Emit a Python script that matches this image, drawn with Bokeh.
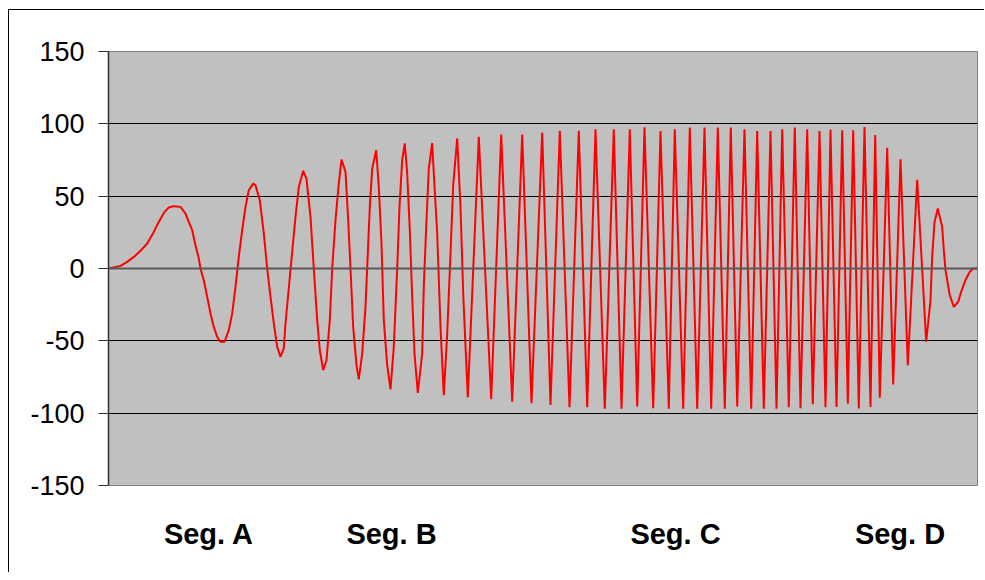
from bokeh.plotting import figure
from bokeh.models import Range1d, FixedTicker, Span
from bokeh.embed import file_html
from bokeh.resources import INLINE

# ---- data ----
# sample position along the record and signal amplitude
t = [0.3, 12, 18.7, 25.3, 32, 38.7, 45.3, 50.3, 55.3, 60.3, 65.3, 72, 77, 80.3, 83.7, 87, 90.3, 92,
     95.3, 98.7, 102, 105.3, 108.7, 112, 116, 120.3, 123.7, 127, 130.3, 133.7, 137, 140.3, 144.7, 147,
     151.3, 155.3, 158.7, 162, 165.3, 168.7, 172, 175.3, 177, 182, 187, 190.3, 194.7, 198, 202, 205.3,
     208.7, 211.3, 214.7, 218, 221.3, 223.7, 227, 230.3, 233, 237, 239.7, 242, 244.7, 248, 250.3,
     253.7, 257, 259.3, 261.3, 263.7, 267.7, 270.3, 273, 275.3, 278.7, 282, 285.3, 288.7, 291, 293.7,
     296.3, 298.7, 301.3, 303.7, 306, 309.3, 313.7, 315.3, 317.7, 320.3, 323.7, 325.3, 328.7, 332,
     335.3, 338.7, 342, 344.7, 348.7, 352, 354.7, 359.3,
     370.3, 382.7, 392.7, 403.7, 413.7, 423, 433.7, 442, 451.3, 461, 470.3, 478.7, 487, 496.3, 505.3,
     513, 521.3, 528.7, 536, 544.7, 552, 560.3, 566.3, 574.7, 581.3, 588.7, 596, 602.7, 609.3, 616.3,
     622.3, 628.7, 636, 642.7, 648.7, 655.3, 662, 668, 673.7, 680.3, 686.3, 692, 698.7, 704.3, 711,
     717, 722, 728, 733.7, 739.3, 744.7, 750.3, 756, 762, 766.7, 771.3, 778.7, 784.7, 792, 799.3,
     808.7, 817.7, 822, 823.7, 826, 829.3, 833.7, 835.3, 837, 839.3, 841.3, 845.3, 849.7, 852.7, 857,
     861.3, 864.7, 868.5]
amplitude = [0, 1.8, 4.6, 8, 12.2, 17.3, 25.3, 32.2, 38.4, 42.2, 43.1, 42.6, 38, 32.2, 26.5, 16.1, 6.9, 0,
             -8.1, -19.6, -31.1, -40.4, -47.3, -50.7, -50.7, -42.6, -31.1, -12.7, 8, 26.5, 42.6, 54.1, 58.7, 57.6,
             47.2, 24.2, 0, -19.6, -38, -54.2, -61.1, -55, -38, -1, 35.7, 56.4, 67.5, 62, 35.7, 0,
             -35.7, -56.5, -70.3, -63.4, -35.7, 0, 33.4, 58.8, 75.3, 66.8, 33.4, 0, -40.4, -66.8, -76.7,
             -58.8, -26.5, 10.4, 42.6, 69, 81.8, 56.4, 17.3, -35.7, -66.8, -83.6, -54.2, 0, 42.6, 74.9,
             86.4, 65.7, 26.5, -19.6, -58.8, -86, -58.8, -12.7, 28.8, 69, 86.8, 65.7, 24.2, -40.4,
             -87.6, -45, 10.4, 57.6, 89.9, 42.6, -17.3, -89.2,
             91, -90.4, 92.6, -92, 92.6, -93.2, 94, -94.3, 95.2, -95.9, 95.2, -95.9, 96.3, -97, 96.3,
             -97, 96.3, -95.4, 97.7, -96.6, 95, -97, 96.3, -97, 97.5, -97, 97.5, -97, 97.5, -97,
             97.5, -95.4, 96.3, -97, 95, -97, 95, -97, 96.3, -95.9, 97.5, -96.6, 96.3, -93.8, 95,
             -95.9, 96, -95.8, 95.5, -93.4, 95.5, -96.8, 97.8, -95.8, 92.3, -89.3, 83.4, -80.1, 75.5, -67,
             61.3, -50.6, -22, 8, 32, 41.5, 28.8, 12.7, -1, -10.4, -18.5, -26.5, -23, -16, -8,
             -2.3, 0, 0]

seg_labels = ["Seg. A", "Seg. B", "Seg. C", "Seg. D"]
seg_ticks = [100.5, 283, 567, 791.5]
y_ticks = [-150, -100, -50, 0, 50, 100, 150]
y_tick_labels = ["-150", "-100", "-50", "0", "50", "100", "150"]

FONT = "Liberation Sans"

p = figure(width=976, height=563, output_backend="svg", toolbar_location=None,
           x_range=Range1d(0, 869), y_range=Range1d(-150, 150),
           min_border_left=99, min_border_right=8, min_border_top=41, min_border_bottom=88)
p.styles = {"margin-left": "8px", "margin-top": "9px",
            "border-left": "1px solid black", "border-top": "1px solid black"}

p.background_fill_color = "#C0C0C0"
p.border_fill_color = "white"
p.outline_line_color = "#808080"
p.outline_line_width = 1

# y axis
p.yaxis.ticker = FixedTicker(ticks=y_ticks)
p.yaxis.major_label_overrides = {tk: lb for tk, lb in zip(y_ticks, y_tick_labels)}
p.yaxis.axis_line_color = "#303030"
p.yaxis.axis_line_width = 1.5
p.yaxis.major_tick_line_color = "#303030"
p.yaxis.major_tick_out = 10
p.yaxis.major_tick_in = 0
p.yaxis.minor_tick_line_color = None
p.yaxis.major_label_standoff = 14
p.yaxis.major_label_text_font = FONT
p.yaxis.major_label_text_font_size = "27px"
p.yaxis.major_label_text_color = "black"

# x axis (segment labels)
p.xaxis.ticker = FixedTicker(ticks=seg_ticks)
p.xaxis.major_label_overrides = {tk: lb for tk, lb in zip(seg_ticks, seg_labels)}
p.xaxis.axis_line_color = None
p.xaxis.major_tick_line_color = None
p.xaxis.minor_tick_line_color = None
p.xaxis.major_tick_out = 0
p.xaxis.major_label_standoff = 32
p.xaxis.major_label_text_font = FONT
p.xaxis.major_label_text_font_size = "29px"
p.xaxis.major_label_text_font_style = "bold"
p.xaxis.major_label_text_color = "black"

# grid
p.xgrid.grid_line_color = None
p.ygrid.ticker = FixedTicker(ticks=[-100, -50, 50, 100])
p.ygrid.grid_line_color = "black"
p.ygrid.grid_line_width = 1
p.add_layout(Span(location=0, dimension="width", line_color="#5a5a5a", line_width=2))

p.line(t, amplitude, line_color="#FF0000", line_width=2)

open("out.html", "w").write(file_html(p, INLINE))
